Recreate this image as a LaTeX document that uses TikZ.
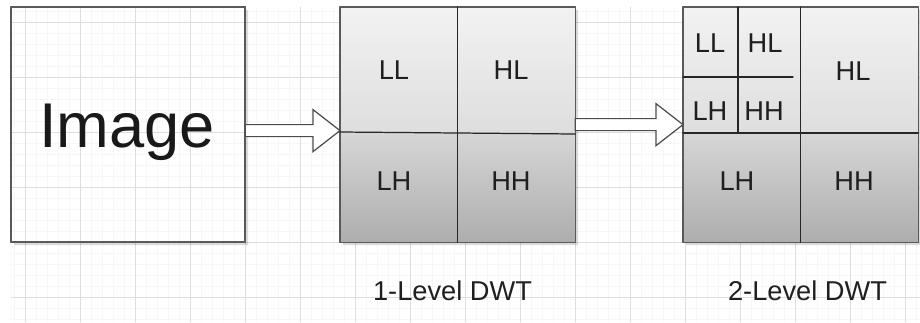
\documentclass[tikz,border=0pt]{standalone}
\usepackage{fontspec}
\setmainfont{Liberation Sans}
\usetikzlibrary{calc}
\tikzset{
    lab/.style={
        font=\fontsize{15.5}{18}\selectfont, text=black!88,
        anchor=base, inner sep=0pt
    },
    big/.style={
        font=\fontsize{36}{40}\selectfont, text=black!90,
        anchor=base, inner sep=0pt
    },
    panel/.style={draw=black!65, line width=0.7pt, inner sep=0pt,
        minimum width=234*0.02cm, minimum height=234*0.02cm,
        anchor=north west},
    cut/.style={draw=black!85, line width=0.7pt},
    blk/.style={draw=black!70, fill=white, line width=0.7pt, line join=miter},
    gridminor/.style={draw=black!3, line width=0.4pt},
    gridmajor/.style={draw=black!13, line width=0.5pt},
    shadowc/.style={fill=black, opacity=0.14}
}
% soft L-shaped shadow along bottom and right edge of a node
\newcommand{\boxshadow}[1]{%
    \fill[shadowc] ($(#1.south west)+(3,0)$) -- ($(#1.south west)+(3,3)$)
        -- ($(#1.south east)+(3,3)$) -- ($(#1.north east)+(3,3)$)
        -- ($(#1.north east)+(0,3)$) -- (#1.south east) -- cycle;}
% hollow block arrow from #1 to the tip #2
\newcommand{\blockarrow}[2]{%
    \draw[blk] ($(#1)+(0,-6)$) -- ($(#2)+(-27,-6)$) -- ($(#2)+(-27,-21)$)
        -- (#2) -- ($(#2)+(-27,21)$) -- ($(#2)+(-27,6)$)
        -- ($(#1)+(0,6)$) -- cycle;}

\begin{document}
\begin{tikzpicture}[x=0.02cm,y=-0.02cm,line cap=round,line join=round]
    \useasboundingbox (0,0) rectangle (920,322);

% --- background grid ---
    \foreach \x in {14,25,...,920} \draw[gridminor] (\x,7) -- (\x,322);
    \foreach \y in {11,22,...,322} \draw[gridminor] (11,\y) -- (920,\y);
    \foreach \x in {25,80,...,920} \draw[gridmajor] (\x,7) -- (\x,322);
    \foreach \y in {22,77,...,322} \draw[gridmajor] (11,\y) -- (920,\y);

% --- boxes ---
    \node[panel, minimum width=233*0.02cm] (img) at (11,7) {};
    \node[panel] (lvlA) at (340,7) {};
    \node[panel] (lvlB) at (683,7) {};
    \boxshadow{img}
    \boxshadow{lvlA}
    \boxshadow{lvlB}

% row splits
    \coordinate (midA) at ($(lvlA.north west)+(0,125)$);
    \coordinate (midB) at ($(lvlB.north west)+(0,126)$);

% gradient fill, light rows on top, darker rows below
    \shade[top color=black!5, bottom color=black!13]
        (lvlA.north west) rectangle (midA -| lvlA.east);
    \shade[top color=black!16, bottom color=black!32]
        (midA) rectangle (lvlA.south east);
    \shade[top color=black!5, bottom color=black!13]
        (lvlB.north west) rectangle (midB -| lvlB.east);
    \shade[top color=black!16, bottom color=black!32]
        (midB) rectangle (lvlB.south east);

    \draw[panel] (img.north west) rectangle (img.south east);
    \draw[panel] (lvlA.north west) rectangle (lvlA.south east);
    \draw[panel] (lvlB.north west) rectangle (lvlB.south east);

% --- splits of 1-level ---
    \draw[cut] (lvlA.north) -- (lvlA.south);
    \draw[cut] (midA) -- ($(midA -| lvlA.east)+(0,2)$);

% --- splits of 2-level ---
    \draw[cut] (lvlB.north) -- (lvlB.south);
    \draw[cut] (midB) -- (midB -| lvlB.east);
    \draw[cut] ($(lvlB.north west)+(55,0)$) -- ($(midB)+(55,0)$);
    \draw[cut] ($(lvlB.north west)+(0,70)$) -- ($(lvlB.north west)+(110,70)$);

% --- arrows ---
    \coordinate (s1) at ($(img.east)+(0,6)$);
    \coordinate (t1) at (lvlA.west |- s1);
    \coordinate (s2) at (lvlA.east);
    \coordinate (t2) at (lvlB.west |- s2);
    \blockarrow{s1}{t1}
    \blockarrow{s2}{t2}

% --- texts ---
    \node[big] (imgtxt) at (127,147) {Image};

    \node[lab] (aLL) at (394,79) {LL};
    \node[lab] (aHL) at (511,79) {HL};
    \node[lab] (aLH) at (394,190) {LH};
    \node[lab] (aHH) at (511,190) {HH};

    \node[lab] (bLL) at (710,52) {LL};
    \node[lab] (bHL) at (765,52) {HL};
    \node[lab] (bLH) at (710,120) {LH};
    \node[lab] (bHH) at (764,120) {HH};
    \node[lab] (bHLx) at (853,80) {HL};
    \node[lab] (bLHx) at (737,190) {LH};
    \node[lab] (bHHx) at (854,190) {HH};

    \node[lab] (capA) at (452.5,300) {1-Level DWT};
    \node[lab] (capB) at (807.5,300) {2-Level DWT};

\end{tikzpicture}
\end{document}
